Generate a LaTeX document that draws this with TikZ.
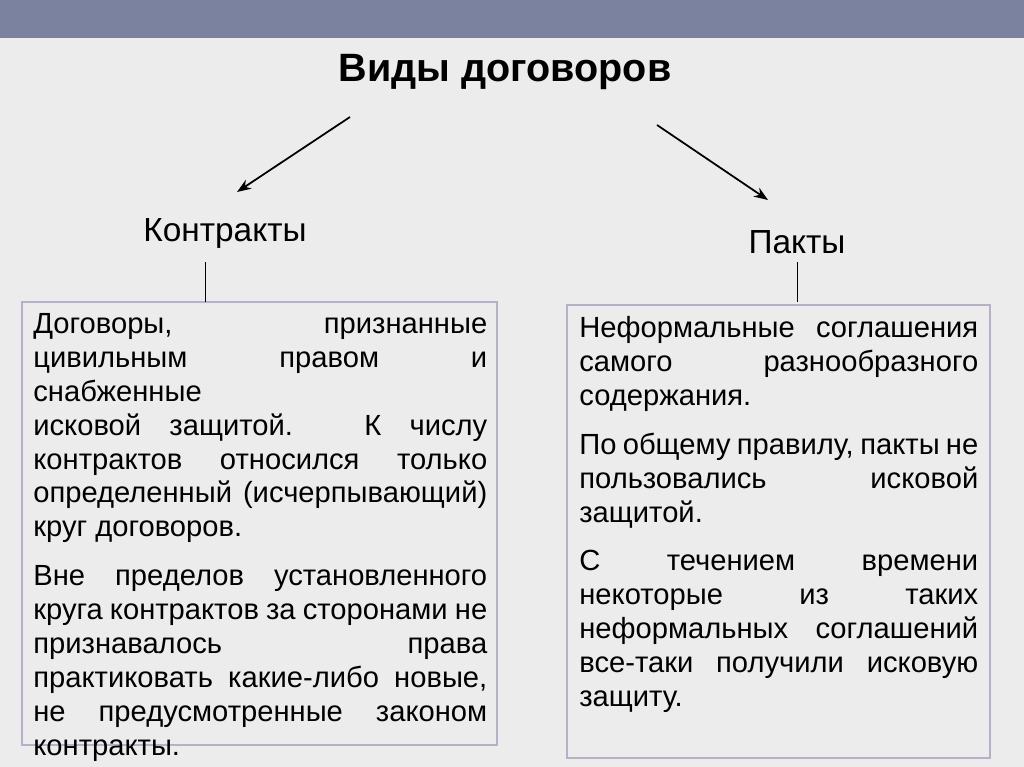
\documentclass[tikz,border=0pt]{standalone}
\usepackage{fontspec}
\setmainfont{Liberation Sans}
\usetikzlibrary{positioning,arrows.meta}
\definecolor{bar}{RGB}{122,130,160}
\definecolor{paper}{RGB}{236,236,236}
\definecolor{frame}{RGB}{185,175,200}
\tikzset{
    txt/.style={anchor=north west, inner sep=0pt, align=justify, font=\fontsize{16.6pt}{19.3pt}\selectfont},
    head/.style={font=\fontsize{19pt}{22pt}\selectfont},
    box/.style={draw=frame, line width=0.8pt},
    arr/.style={-{Stealth[length=8pt,width=6pt]}, line width=1pt}
}
\begin{document}
\begin{tikzpicture}[x=0.02cm,y=-0.02cm]
    \useasboundingbox (0,0) rectangle (1024,767);
    \fill[paper] (0,0) rectangle (1024,767);
    \fill[bar] (0,0) rectangle (1024,38);
    \node[font=\bfseries\fontsize{22.5pt}{26pt}\selectfont](types) at (505,72) {Виды договоров};
    \node[head](contr) at (225,233) {Контракты};
    \node[head](pacts) at (797,242) {Пакты};
    \coordinate (c1) at (350,117);
    \coordinate (p1) at (657,125);
    \draw[arr] (c1) -- (237,192);
    \draw[arr] (p1) -- (768,200);
    \draw[box,fill=paper] (22,302) rectangle (497,745);
    \draw[box,fill=paper] (567,305) rectangle (990,758);
    \draw (205,262) -- (205,302);
    \draw (797,262) -- (797,302);
    \node[txt, text width=9.08cm](ltext) at (33,313) {Договоры, признанные\linebreak цивильным правом и снабженные\linebreak исковой защитой. К числу\linebreak контрактов относился только\linebreak определенный (исчерпывающий)\linebreak круг договоров.\par\vspace{0.3cm}
    Вне пределов установленного\linebreak круга контрактов за сторонами не\linebreak признавалось права\linebreak практиковать какие-либо новые,\linebreak не предусмотренные законом\linebreak контракты.};
    \node[txt, text width=7.98cm](rtext) at (579,316) {Неформальные соглашения\linebreak самого разнообразного\linebreak содержания.\par\vspace{0.3cm}
    По общему правилу, пакты не\linebreak пользовались исковой\linebreak защитой.\par\vspace{0.3cm}
    С течением времени\linebreak некоторые из таких\linebreak неформальных соглашений\linebreak все-таки получили исковую\linebreak защиту.};
\end{tikzpicture}
\end{document}
